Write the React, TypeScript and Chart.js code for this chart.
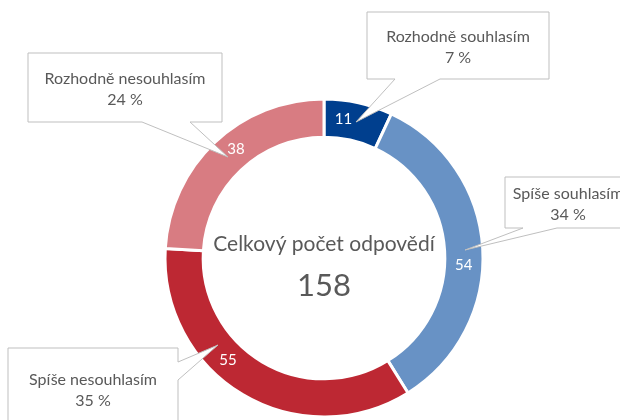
import React, { useEffect, useRef } from "react";
import { Chart, registerables } from "chart.js";

Chart.register(...registerables);

const categories = ["Rozhodně souhlasím", "Spíše souhlasím", "Spíše nesouhlasím", "Rozhodně nesouhlasím"];
const counts = [11, 54, 55, 38];
const colors = ["#003F8E", "#6892C5", "#BD2833", "#D87C82"];
const centerTitle = "Celkový počet odpovědí";

const FONT = "Lato, 'Open Sans', sans-serif";
const TEXT = "#595959";

type Callout = {
  box: [number, number, number, number]; // x, y, w, h
  side: "bottom" | "right";
  base: [number, number];
  tip: [number, number];
};

// annotation layout (callout boxes), same order as categories
const callouts: Callout[] = [
  { box: [367, 12, 182, 67], side: "bottom", base: [395, 440], tip: [356, 122] },
  { box: [505, 177, 126, 51], side: "bottom", base: [523, 557], tip: [465, 250] },
  { box: [8, 348, 170, 80], side: "right", base: [362, 380], tip: [218, 345] },
  { box: [28, 53, 194, 69], side: "bottom", base: [142, 190], tip: [228, 157] },
];
// where the value label sits along each arc (0..1)
const labelAlong = [0.32, 0.55, 0.6, 0.55];

const overlayPlugin = {
  id: "overlay",
  afterDraw(chart: any) {
    const ctx = chart.ctx as CanvasRenderingContext2D;
    const meta = chart.getDatasetMeta(0);
    const total = counts.reduce((a, b) => a + b, 0);
    ctx.save();
    // callouts
    callouts.forEach((c, i) => {
      const [x, y, w, h] = c.box;
      ctx.beginPath();
      if (c.side === "bottom") {
        ctx.moveTo(x, y);
        ctx.lineTo(x + w, y);
        ctx.lineTo(x + w, y + h);
        ctx.lineTo(c.base[1], y + h);
        ctx.lineTo(c.tip[0], c.tip[1]);
        ctx.lineTo(c.base[0], y + h);
        ctx.lineTo(x, y + h);
      } else {
        ctx.moveTo(x, y);
        ctx.lineTo(x + w, y);
        ctx.lineTo(x + w, c.base[0]);
        ctx.lineTo(c.tip[0], c.tip[1]);
        ctx.lineTo(x + w, c.base[1]);
        ctx.lineTo(x + w, y + h);
        ctx.lineTo(x, y + h);
      }
      ctx.closePath();
      ctx.fillStyle = "#ffffff";
      ctx.fill();
      ctx.strokeStyle = "#BFBFBF";
      ctx.lineWidth = 1;
      ctx.stroke();
      const cx = x + w / 2;
      const pct = Math.round((counts[i] / total) * 100) + " %";
      ctx.fillStyle = TEXT;
      ctx.font = `16px ${FONT}`;
      ctx.textAlign = "center";
      ctx.textBaseline = "middle";
      const cy = c.side === "bottom" ? y + h / 2 : y + 41;
      ctx.fillText(categories[i], cx, cy - 9);
      ctx.fillText(pct, cx, cy + 12);
    });
    // value labels
    meta.data.forEach((arc: any, i: number) => {
      const p = arc.getProps(["x", "y", "startAngle", "endAngle", "innerRadius", "outerRadius"], true);
      const a = p.startAngle + (p.endAngle - p.startAngle) * labelAlong[i];
      const r = (p.innerRadius + p.outerRadius) / 2;
      ctx.fillStyle = "#ffffff";
      ctx.font = `15px ${FONT}`;
      ctx.textAlign = "center";
      ctx.textBaseline = "middle";
      ctx.fillText(String(counts[i]), p.x + Math.cos(a) * r, p.y + Math.sin(a) * r);
    });
    // center text
    const a0 = meta.data[0];
    ctx.fillStyle = TEXT;
    ctx.textAlign = "center";
    ctx.textBaseline = "middle";
    ctx.font = `21px ${FONT}`;
    ctx.fillText(centerTitle, a0.x, a0.y - 14);
    ctx.font = `31px ${FONT}`;
    ctx.fillText(String(total), a0.x, a0.y + 28);
    ctx.restore();
  },
};

export default function App() {
  const ref = useRef<HTMLCanvasElement | null>(null);
  useEffect(() => {
    if (!ref.current) return;
    const chart = new Chart(ref.current, {
      type: "doughnut",
      data: {
        labels: categories,
        datasets: [
          {
            data: counts,
            backgroundColor: colors,
            borderColor: "#ffffff",
            borderWidth: 3,
            hoverOffset: 0,
          },
        ],
      },
      options: {
        responsive: false,
        maintainAspectRatio: false,
        animation: false,
        cutout: "76%",
        layout: { padding: { top: 97.5, bottom: 1.5, left: 163.5, right: 135.5 } },
        plugins: {
          legend: { display: false },
          tooltip: { enabled: false },
          title: { display: false },
        },
      },
      plugins: [overlayPlugin],
    });
    return () => chart.destroy();
  }, []);
  return (
    <div style={{ position: "fixed", left: 0, top: 0, width: 620, height: 420, background: "#fff" }}>
      <canvas ref={ref} width={620} height={420} style={{ width: 620, height: 420 }} />
    </div>
  );
}
